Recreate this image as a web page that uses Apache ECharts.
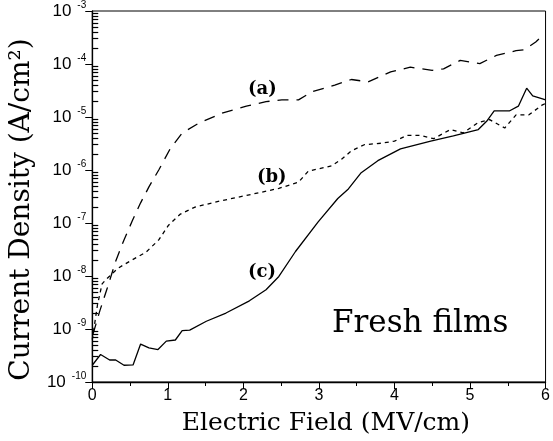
<!DOCTYPE html>
<html>
<head>
<meta charset="utf-8">
<script src="https://cdn.jsdelivr.net/npm/echarts@6/dist/echarts.min.js"></script>
<style>html,body{margin:0;padding:0;background:#fff;}#c{width:553px;height:441px;}</style>
</head>
<body>
<div id="c"></div>
<script>
// Curve (a): long dashes
const fieldA = [0.01,0.10,0.20,0.31,0.42,0.53,0.64,0.75,0.88,1.03,1.19,1.42,1.73,2.04,2.30,2.51,2.73,2.91,3.08,3.21,3.43,3.65,3.95,4.21,4.50,4.65,4.87,5.13,5.35,5.61,5.72,5.87,5.96];
const densA  = [8e-10,2.2e-9,6e-9,1.9e-8,4.8e-8,1.1e-7,2.4e-7,4.8e-7,1.0e-6,2.5e-6,5.0e-6,7.8e-6,1.2e-5,1.6e-5,1.95e-5,2.1e-5,2.1e-5,3.0e-5,3.5e-5,4.0e-5,5.1e-5,4.6e-5,7.1e-5,8.7e-5,7.6e-5,8.1e-5,1.17e-4,1.02e-4,1.45e-4,1.78e-4,1.86e-4,2.6e-4,3.4e-4];
// Curve (b): short dashes
const fieldB = [0.0,0.07,0.13,0.20,0.34,0.51,0.71,0.88,1.01,1.16,1.36,1.69,2.12,2.47,2.73,2.86,2.99,3.17,3.30,3.43,3.60,3.82,4.00,4.17,4.34,4.52,4.74,4.91,5.11,5.26,5.46,5.61,5.78,5.96,6.0];
const densB  = [6.3e-10,2.9e-9,7.1e-9,9.1e-9,1.4e-8,1.95e-8,2.8e-8,4.8e-8,9.1e-8,1.45e-7,2.0e-7,2.6e-7,3.5e-7,4.5e-7,5.9e-7,9.5e-7,1.05e-6,1.2e-6,1.6e-6,2.3e-6,3.0e-6,3.2e-6,3.5e-6,4.5e-6,4.5e-6,3.9e-6,5.8e-6,5.0e-6,7.9e-6,8.9e-6,6.2e-6,1.1e-5,1.1e-5,1.7e-5,1.8e-5];
// Curve (c): solid
const fieldC = [0.0,0.11,0.23,0.31,0.42,0.54,0.64,0.75,0.87,0.98,1.10,1.19,1.29,1.51,1.77,2.08,2.30,2.47,2.69,2.99,3.25,3.39,3.56,3.78,4.08,4.48,4.78,5.11,5.22,5.32,5.52,5.64,5.75,5.83,5.96,6.0];
const densC  = [2.07e-10,3.3e-10,2.6e-10,2.6e-10,2.07e-10,2.1e-10,5.2e-10,4.4e-10,4.1e-10,5.9e-10,6.2e-10,9.3e-10,9.5e-10,1.4e-9,2.0e-9,3.4e-9,5.5e-9,9.8e-9,2.9e-8,1.05e-7,2.9e-7,4.4e-7,8.9e-7,1.5e-6,2.5e-6,3.5e-6,4.4e-6,5.8e-6,8.3e-6,1.3e-5,1.3e-5,1.6e-5,3.5e-5,2.5e-5,2.2e-5,2.1e-5];
// Minor tick positions on log axis (2..9 per decade)
const decadeExps = [-10,-9,-8,-7,-6,-5,-4];
const minorMults = [2,3,4,5,6,7,8,9];

const xTitle = 'Electric Field (MV/cm)';
const yTitle = 'Current Density (A/cm²)';
const curveLabels = ['(a)','(b)','(c)'];
const noteText = 'Fresh films';

const zip = (xs, ys) => xs.map((x, i) => [x, ys[i]]);
const minorTickValues = [];
decadeExps.forEach(e => minorMults.forEach(m => minorTickValues.push(m * Math.pow(10, e))));

const chart = echarts.init(document.getElementById('c'), null, {renderer: 'canvas'});
chart.setOption({
  animation: false,
  backgroundColor: '#fff',
  grid: {left: 91, right: 3, top: 10, bottom: 56, show: true, borderColor: '#000', borderWidth: 1},
  xAxis: {
    type: 'value', min: 0, max: 6, interval: 1,
    name: xTitle, nameLocation: 'middle', nameGap: 29,
    nameTextStyle: {fontFamily: 'DejaVu Serif', fontSize: 25, color: '#000', padding: [0, 0, 0, 14]},
    axisLine: {onZero: false, lineStyle: {color: '#000', width: 1.3}},
    axisTick: {show: true, length: 7, inside: false, lineStyle: {color: '#000'}},
    minorTick: {show: true, splitNumber: 2, length: 4, lineStyle: {color: '#000'}},
    splitLine: {show: false},
    axisLabel: {fontFamily: 'Liberation Sans', fontSize: 16, color: '#000', margin: 6}
  },
  yAxis: [{
    type: 'log', logBase: 10, min: 1e-10, max: 1e-3,
    name: yTitle, nameLocation: 'middle', nameGap: 56,
    nameTextStyle: {fontFamily: 'DejaVu Serif', fontSize: 28, color: '#000', padding: [0, 26, 0, 0]},
    axisLine: {onZero: false, lineStyle: {color: '#000', width: 1.3}},
    axisTick: {show: true, length: 7, inside: false, lineStyle: {color: '#000'}},
    splitLine: {show: false},
    axisLabel: {
      margin: 6,
      formatter: function (v) {
        const e = Math.round(Math.log10(v));
        return '{b|10}{s|' + e + '}';
      },
      rich: {
        b: {fontFamily: 'Liberation Sans', fontSize: 17, color: '#000'},
        s: {fontFamily: 'Liberation Sans', fontSize: 10, color: '#000', padding: [0, 0, 12, 6]}
      }
    }
  }, {
    type: 'log', logBase: 10, min: 1e-10, max: 1e-3, position: 'left', offset: 0,
    axisLine: {show: false},
    axisLabel: {show: false},
    splitLine: {show: false},
    axisTick: {show: true, inside: true, length: 6, customValues: minorTickValues, lineStyle: {color: '#000', width: 1.2}}
  }],
  series: [
    {type: 'line', data: zip(fieldA, densA), symbol: 'none', lineStyle: {color: '#000', width: 1.3, type: [11, 8]}, z: 3},
    {type: 'line', data: zip(fieldB, densB), symbol: 'none', lineStyle: {color: '#000', width: 1.3, type: [4, 4]}, z: 3},
    {type: 'line', data: zip(fieldC, densC), symbol: 'none', lineStyle: {color: '#000', width: 1.3, type: 'solid'}, z: 3}
  ],
  graphic: [
    {type: 'text', left: 248, top: 80, style: {text: curveLabels[0], fontFamily: 'DejaVu Serif', fontSize: 18, fontWeight: 'bold', fill: '#000'}},
    {type: 'text', left: 257, top: 168, style: {text: curveLabels[1], fontFamily: 'DejaVu Serif', fontSize: 18, fontWeight: 'bold', fill: '#000'}},
    {type: 'text', left: 248, top: 263, style: {text: curveLabels[2], fontFamily: 'DejaVu Serif', fontSize: 18, fontWeight: 'bold', fill: '#000'}},
    {type: 'text', left: 332, top: 308, style: {text: noteText, fontFamily: 'DejaVu Serif', fontSize: 31, fill: '#000'}}
  ]
});
</script>
</body>
</html>
